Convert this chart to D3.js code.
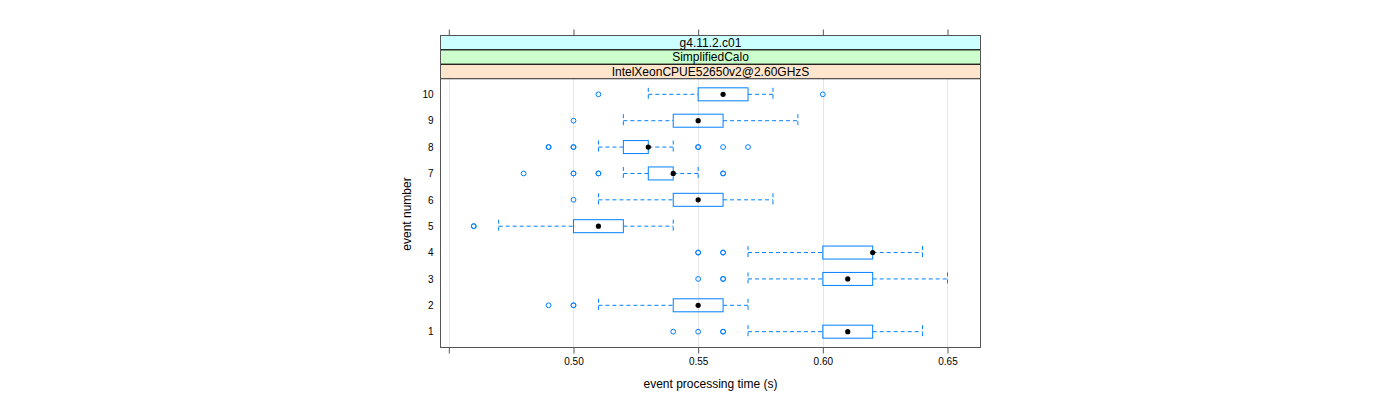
<!DOCTYPE html>
<html><head><meta charset="utf-8">
<script src="https://cdn.jsdelivr.net/npm/d3@7"></script>
<style>body{margin:0;background:#fff}svg{display:block}text{font-family:"Liberation Sans",Arial,sans-serif}</style>
</head><body><svg id="c" width="1400" height="400"></svg>
<script>
const events = [1,2,3,4,5,6,7,8,9,10];
const whiskerLow  = [0.57,0.51,0.57,0.57,0.47,0.51,0.52,0.51,0.52,0.53];
const q1          = [0.60,0.54,0.60,0.60,0.50,0.54,0.53,0.52,0.54,0.55];
const median      = [0.61,0.55,0.61,0.62,0.51,0.55,0.54,0.53,0.55,0.56];
const q3          = [0.62,0.56,0.62,0.62,0.52,0.56,0.54,0.53,0.56,0.57];
const whiskerHigh = [0.64,0.57,0.65,0.64,0.54,0.58,0.55,0.54,0.59,0.58];
const outliers = [
  [0.54,0.55,0.56,0.56],
  [0.49,0.50,0.50],
  [0.55,0.56,0.56],
  [0.55,0.55,0.56,0.56],
  [0.46,0.46],
  [0.50],
  [0.48,0.50,0.50,0.51,0.51,0.56,0.56],
  [0.49,0.49,0.50,0.50,0.55,0.55,0.56,0.57],
  [0.50],
  [0.51,0.60]
];
const xTicks = [0.45,0.50,0.55,0.60,0.65];
const xTickLabels = ["","0.50","0.55","0.60","0.65"];
const strips = ["g4.11.2.c01","SimplifiedCalo","IntelXeonCPUE52650v2@2.60GHzS"];
const stripColors = ["#ccffff","#ccffcc","#ffe5cc"];

const svg = d3.select("#c");
const L=440.5, R=980.5, T=78.5, B=347.5, stripTop=35.5, stripH=14.4;
const x = d3.scaleLinear().domain([0.44666,0.66324]).range([L,R]);
const y = d3.scaleLinear().domain([0.4,10.6]).range([B,T]);
const blue = "#0080ff";

// grid
svg.append("g").selectAll("line").data(xTicks).join("line")
  .attr("x1",d=>Math.round(x(d))+0.5).attr("x2",d=>Math.round(x(d))+0.5)
  .attr("y1",T).attr("y2",B).attr("stroke","#e6e6e6").attr("stroke-width",1);

// strips
strips.forEach((s,i)=>{
  const y0 = stripTop + i*stripH;
  svg.append("rect").attr("x",L).attr("y",y0).attr("width",R-L).attr("height",stripH)
    .attr("fill",stripColors[i]).attr("stroke","#000").attr("stroke-width",1);
  svg.append("text").attr("x",(L+R)/2).attr("y",y0+stripH/2+4.2).attr("text-anchor","middle")
    .attr("font-size",12).attr("fill","#000").text(s);
});

// panel border
svg.append("rect").attr("x",L).attr("y",T).attr("width",R-L).attr("height",B-T)
  .attr("fill","none").attr("stroke","#555").attr("stroke-width",1);
svg.append("rect").attr("x",L).attr("y",stripTop).attr("width",R-L).attr("height",B-stripTop)
  .attr("fill","none").attr("stroke","#555").attr("stroke-width",1);

// bottom axis
const xb = svg.append("g").attr("transform",`translate(0,${B})`)
  .call(d3.axisBottom(x).tickValues(xTicks).tickFormat((d,i)=>xTickLabels[i]).tickSize(6).tickSizeOuter(0).tickPadding(4));
xb.select(".domain").remove();
xb.selectAll("line").attr("stroke","#555");
xb.selectAll("text").attr("font-size",10).attr("fill","#000").attr("font-family","Liberation Sans, Arial, sans-serif");
// top ticks
const xt = svg.append("g").attr("transform",`translate(0,${stripTop})`)
  .call(d3.axisTop(x).tickValues(xTicks).tickFormat("").tickSize(6).tickSizeOuter(0));
xt.select(".domain").remove();
xt.selectAll("line").attr("stroke","#555");

// left axis labels
const yl = svg.append("g").attr("transform",`translate(${L},0)`)
  .call(d3.axisLeft(y).tickValues(events).tickFormat(d3.format("d")).tickSize(0).tickPadding(7));
yl.select(".domain").remove();
yl.selectAll("text").attr("font-size",10).attr("fill","#000").attr("font-family","Liberation Sans, Arial, sans-serif");

// titles
svg.append("text").attr("x",(L+R)/2).attr("y",388).attr("text-anchor","middle").attr("font-size",12).text("event processing time (s)");
svg.append("text").attr("transform",`translate(411,214) rotate(-90)`).attr("text-anchor","middle").attr("font-size",12).text("event number");

// boxes
const hh = 6.5;
const g = svg.append("g");
events.forEach((e,i)=>{
  const cy = y(e);
  // whiskers
  g.append("line").attr("x1",x(whiskerLow[i])).attr("x2",x(q1[i])).attr("y1",cy).attr("y2",cy)
    .attr("stroke",blue).attr("stroke-dasharray","4,3").attr("stroke-width",1);
  g.append("line").attr("x1",x(q3[i])).attr("x2",x(whiskerHigh[i])).attr("y1",cy).attr("y2",cy)
    .attr("stroke",blue).attr("stroke-dasharray","4,3").attr("stroke-width",1);
  [whiskerLow[i],whiskerHigh[i]].forEach(v=>{
    g.append("line").attr("x1",x(v)).attr("x2",x(v)).attr("y1",cy-hh).attr("y2",cy+hh)
      .attr("stroke",blue).attr("stroke-dasharray","4,3").attr("stroke-width",1);
  });
  g.append("rect").attr("x",x(q1[i])).attr("y",cy-hh).attr("width",Math.max(0,x(q3[i])-x(q1[i])))
    .attr("height",2*hh).attr("fill","none").attr("stroke",blue).attr("stroke-width",1);
  g.append("g").selectAll("circle").data(outliers[i]).join("circle")
    .attr("cx",d=>x(d)).attr("cy",cy).attr("r",2.4).attr("fill","none").attr("stroke",blue).attr("stroke-width",1);
  g.append("circle").attr("cx",x(median[i])).attr("cy",cy).attr("r",2.6).attr("fill","#000");
});
</script></body></html>
